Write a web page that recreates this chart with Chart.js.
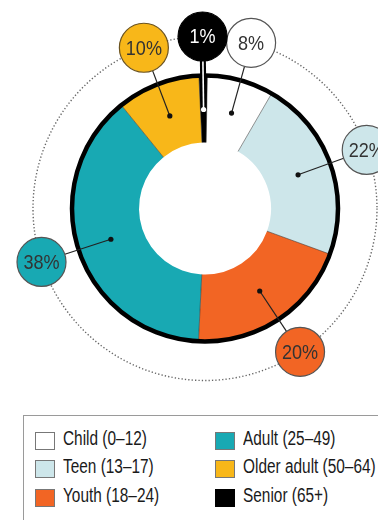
<!DOCTYPE html>
<html>
<head>
<meta charset="utf-8">
<script src="https://cdn.jsdelivr.net/npm/chart.js@4/dist/chart.umd.min.js"></script>
<style>
  html, body { margin: 0; padding: 0; background: #fff; }
  body { width: 378px; height: 520px; position: relative; overflow: hidden;
         font-family: "Liberation Sans", Arial, sans-serif; }
  #wrap { position: absolute; left: 0; top: 0; width: 378px; height: 400px; }
  #legend { position: absolute; left: 23px; top: 415px; width: 380px; height: 130px;
            border: 1.5px solid #9a9a9a; box-sizing: border-box; }
  .item { position: absolute; height: 24px; line-height: 20px; font-size: 20px; color: #1a1a1a; white-space: nowrap; }
  .sw { position: absolute; left: 0; top: 4px; width: 20px; height: 18px; box-sizing: border-box; border: 1px solid #777; }
  .tx { position: absolute; left: 28px; top: 0; transform: scaleX(0.77); transform-origin: 0 50%; }
</style>
</head>
<body>
<div id="wrap"><canvas id="c" width="378" height="400"></canvas></div>
<div id="legend"></div>
<script>
const categories = ["Child (0\u201312)", "Teen (13\u201317)", "Youth (18\u201324)", "Adult (25\u201349)", "Older adult (50\u201364)", "Senior (65+)"];
const shares = [8, 22, 20, 38, 10, 1];
const shareLabels = ["8%", "22%", "20%", "38%", "10%", "1%"];
const colors = ["#ffffff", "#cde6ea", "#f26524", "#18a9b3", "#f8b719", "#000000"];
const labelTextColors = ["#333333", "#333333", "#333333", "#333333", "#333333", "#ffffff"];

const W = 378, H = 400;
const CX = 205, CY = 208.5, R = 132;

const overlay = {
  id: 'overlay',
  afterDatasetsDraw(chart) {
    const ctx = chart.ctx;
    const arcs = chart.getDatasetMeta(0).data;
    const cx = arcs[0].x, cy = arcs[0].y;
    const outer = arcs[0].outerRadius, inner = arcs[0].innerRadius;
    const mid = (outer + inner) / 2;
    const labelR = outer + 40;
    const bubbleR = 24.5;
    ctx.save();
    // segment dividers
    arcs.forEach((a, i) => {
      const ang = a.startAngle;
      ctx.beginPath();
      ctx.moveTo(cx + inner * Math.cos(ang), cy + inner * Math.sin(ang));
      ctx.lineTo(cx + outer * Math.cos(ang), cy + outer * Math.sin(ang));
      ctx.strokeStyle = i === 1 ? 'rgba(120,120,120,0.8)' : 'rgba(50,50,50,0.55)';
      ctx.lineWidth = 1;
      ctx.stroke();
    });
    // black outer ring
    ctx.beginPath();
    ctx.arc(cx, cy, outer + 1, 0, Math.PI * 2);
    ctx.strokeStyle = '#000';
    ctx.lineWidth = 4.5;
    ctx.stroke();
    // dotted circle
    ctx.beginPath();
    ctx.arc(cx, cy, labelR, 0, Math.PI * 2);
    ctx.setLineDash([1.3, 2.1]);
    ctx.strokeStyle = '#666';
    ctx.lineWidth = 1.4;
    ctx.stroke();
    ctx.setLineDash([]);
    // leaders, dots and bubbles
    arcs.forEach((a, i) => {
      const ang = (a.startAngle + a.endAngle) / 2;
      const dx = Math.cos(ang), dy = Math.sin(ang);
      const px = cx + mid * dx, py = cy + mid * dy;
      const bx = cx + labelR * dx, by = cy + labelR * dy;
      const ex = cx + (labelR - bubbleR) * dx, ey = cy + (labelR - bubbleR) * dy;
      if (i === 5) {
        ctx.beginPath(); ctx.moveTo(ex, ey); ctx.lineTo(px, py);
        ctx.strokeStyle = '#000'; ctx.lineWidth = 6; ctx.stroke();
        ctx.beginPath(); ctx.moveTo(ex, ey); ctx.lineTo(px, py);
        ctx.strokeStyle = '#fff'; ctx.lineWidth = 1.6; ctx.stroke();
        ctx.beginPath(); ctx.arc(px, py, 2.6, 0, Math.PI * 2);
        ctx.fillStyle = '#fff'; ctx.fill();
      } else {
        ctx.beginPath(); ctx.moveTo(ex, ey); ctx.lineTo(px, py);
        ctx.strokeStyle = '#222'; ctx.lineWidth = 1.2; ctx.stroke();
        ctx.beginPath(); ctx.arc(px, py, 2.6, 0, Math.PI * 2);
        ctx.fillStyle = '#111'; ctx.fill();
      }
      ctx.beginPath();
      ctx.arc(bx, by, bubbleR, 0, Math.PI * 2);
      ctx.fillStyle = colors[i];
      ctx.fill();
      ctx.strokeStyle = i === 5 ? '#000' : (i === 4 ? '#6b5320' : '#555');
      ctx.lineWidth = 1.2;
      ctx.stroke();
      ctx.save();
      ctx.translate(bx, by + 1);
      ctx.scale(0.86, 1);
      ctx.fillStyle = labelTextColors[i];
      ctx.font = '21px "Liberation Sans", Arial, sans-serif';
      ctx.textAlign = 'center';
      ctx.textBaseline = 'middle';
      ctx.fillText(shareLabels[i], 0, 0);
      ctx.restore();
    });
    ctx.restore();
  }
};

new Chart(document.getElementById('c'), {
  type: 'doughnut',
  data: {
    labels: categories,
    datasets: [{
      data: shares,
      backgroundColor: colors,
      borderWidth: 0,
      hoverOffset: 0
    }]
  },
  options: {
    responsive: false,
    animation: false,
    cutout: '50%',
    rotation: 1,
    layout: { padding: { left: CX - R, top: CY - R, right: W - CX - R, bottom: H - CY - R } },
    plugins: { legend: { display: false }, tooltip: { enabled: false } },
    events: []
  },
  plugins: [overlay]
});

// legend (column-major, two columns of three)
const legend = document.getElementById('legend');
const colX = [10.5, 190.5];
const rowY = [11.5, 40, 68.5];
categories.forEach((name, i) => {
  const col = Math.floor(i / 3), row = i % 3;
  const it = document.createElement('div');
  it.className = 'item';
  it.style.left = colX[col] + 'px';
  it.style.top = rowY[row] + 'px';
  const sw = document.createElement('div');
  sw.className = 'sw';
  sw.style.background = colors[i];
  if (i === 5) sw.style.borderColor = '#000';
  const tx = document.createElement('div');
  tx.className = 'tx';
  tx.textContent = name;
  it.appendChild(sw); it.appendChild(tx);
  legend.appendChild(it);
});
</script>
</body>
</html>
